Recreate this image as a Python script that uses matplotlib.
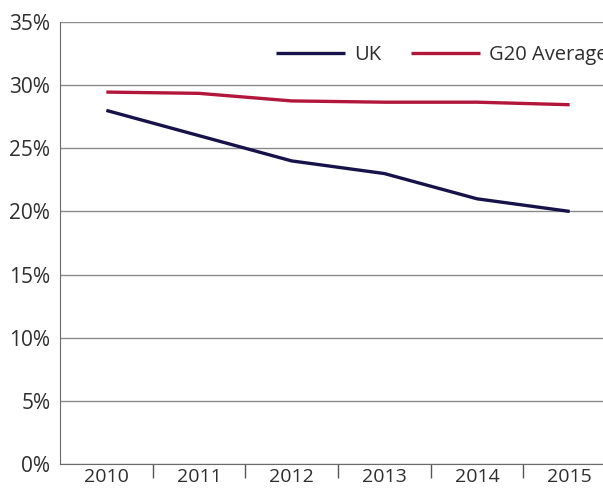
import matplotlib
matplotlib.use("Agg")
import matplotlib.pyplot as plt
from matplotlib.ticker import FixedLocator, PercentFormatter

years = ["2010", "2011", "2012", "2013", "2014", "2015"]
uk = [28.0, 26.0, 24.0, 23.0, 21.0, 20.0]
g20 = [29.45, 29.35, 28.75, 28.65, 28.65, 28.45]
yticks = [0, 5, 10, 15, 20, 25, 30, 35]

plt.rcParams['font.family'] = ['Open Sans', 'DejaVu Sans']

fig = plt.figure(figsize=(6.03, 4.9), dpi=100)
ax = fig.add_axes([60/603, 26/490, 556/603, 442/490])

x = list(range(len(years)))
ax.plot(x, uk, color="#17124a", lw=2.4, label="UK", solid_capstyle="butt")
ax.plot(x, g20, color="#b3163b", lw=2.4, label="G20 Average", solid_capstyle="butt")

ax.set_xlim(-0.5, len(years) - 0.5)
ax.set_ylim(0, 35)
ax.set_yticks(yticks)
ax.yaxis.set_major_formatter(PercentFormatter(decimals=0))
ax.set_xticks(x)
ax.set_xticklabels(years)
ax.xaxis.set_minor_locator(FixedLocator([i + 0.5 for i in range(len(years) - 1)]))
ax.tick_params(axis="x", which="major", length=0, pad=3, labelsize=14, colors="#2e2e2e")
ax.tick_params(axis="x", which="minor", length=10, width=1, color="#555555", direction="out")
ax.tick_params(axis="y", length=0, pad=7, labelsize=15, colors="#2e2e2e")

ax.grid(axis="y", color="#8a8a8a", lw=1)
ax.set_axisbelow(True)
for s in ["top", "right"]:
    ax.spines[s].set_visible(False)
ax.spines["left"].set_color("#6a6a6a")
ax.spines["bottom"].set_color("#6a6a6a")

leg = ax.legend(loc="center left", bbox_to_anchor=(0.389, 0.925), ncol=2, frameon=False,
                fontsize=14.5, handlelength=3.4, columnspacing=1.5, handletextpad=0.45,
                borderaxespad=0, borderpad=0)
for t in leg.get_texts():
    t.set_color("#2e2e2e")

fig.savefig("out.png", dpi=100)
